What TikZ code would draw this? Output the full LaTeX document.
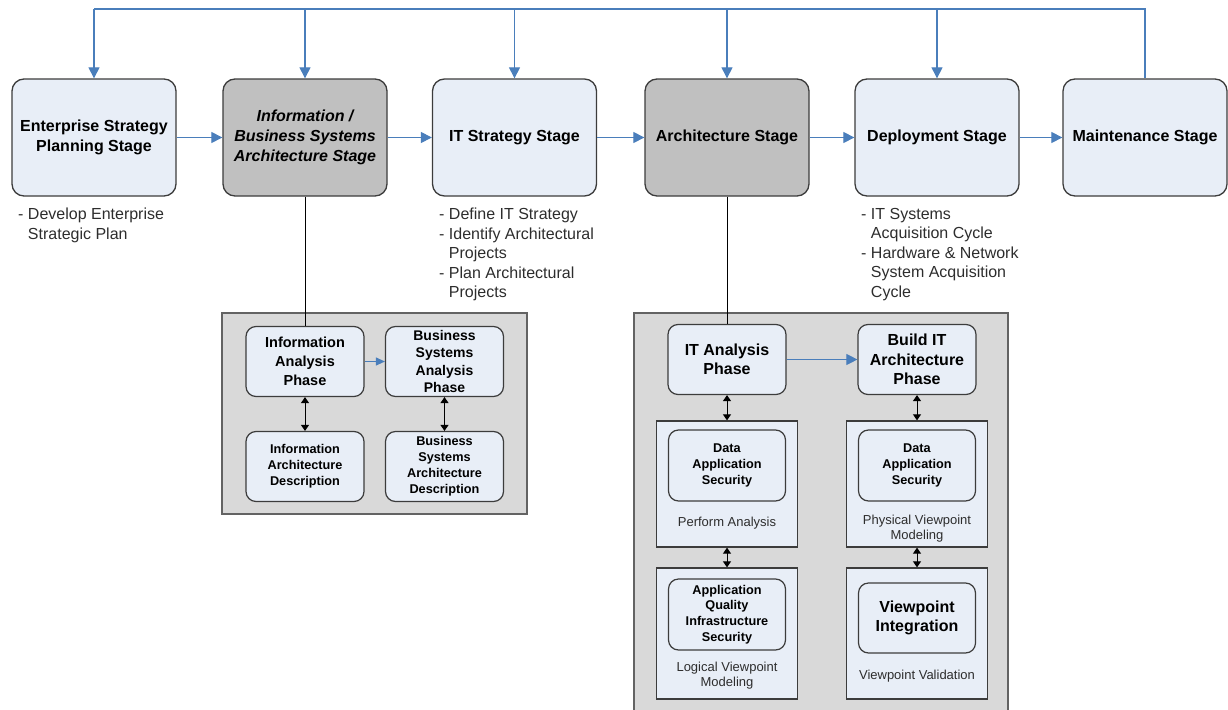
\documentclass[tikz,border=0pt]{standalone}
\usepackage{fontspec}
\setmainfont{Liberation Sans}
\usetikzlibrary{arrows.meta}

\definecolor{stageblue}{RGB}{232,238,247}
\definecolor{stagegray}{RGB}{192,192,192}
\definecolor{panelgray}{RGB}{217,217,217}
\definecolor{flowblue}{RGB}{74,126,187}
\definecolor{edgegray}{RGB}{60,60,60}
\definecolor{notegray}{RGB}{45,45,45}

\tikzset{
  stage/.style={draw=edgegray, line width=1.3pt, rounded corners=12pt, fill=stageblue,
    minimum width=164pt, minimum height=117pt, inner sep=2pt, align=center,
    font=\fontsize{16}{20}\selectfont\bfseries},
  stagedark/.style={stage, fill=stagegray},
  note/.style={anchor=north west, inner sep=0pt, align=left, text=notegray,
    font=\fontsize{16}{19.5}\selectfont},
  panel/.style={draw=edgegray!80, line width=1.3pt, fill=panelgray},
  phase/.style={draw=edgegray, line width=1.2pt, rounded corners=10pt, fill=stageblue,
    minimum width=118pt, minimum height=70pt, inner sep=1pt, align=center,
    font=\fontsize{16}{19}\selectfont\bfseries},
  viewbox/.style={draw=edgegray, line width=1.3pt, fill=stageblue,
    minimum width=141pt, minimum height=126pt, inner sep=0pt},
  innerbox/.style={draw=edgegray, line width=1.2pt, rounded corners=10pt, fill=stageblue,
    minimum width=117pt, minimum height=71pt, inner sep=1pt, align=center,
    font=\fontsize{12.7}{15.8}\selectfont\bfseries},
  boxcaption/.style={inner sep=0pt, align=center, text=notegray,
    font=\fontsize{13}{15.5}\selectfont},
  feedback/.style={draw=flowblue, line width=1.1pt},
  flow/.style={draw=flowblue, line width=1.1pt, -{Triangle[length=11pt,width=11pt]}},
  flowsmall/.style={draw=flowblue, line width=1.1pt, -{Triangle[length=9pt,width=8pt]}},
  connector/.style={draw=black, line width=1pt},
  twoway/.style={draw=black, line width=1pt,
    {Triangle[length=6pt,width=8pt]}-{Triangle[length=6pt,width=8pt]}},
}

\begin{document}
\begin{tikzpicture}[x=1pt, y=-1pt]
    \useasboundingbox (0,0) rectangle (1228,709);
    % stages
    \node[stage] (enterprise) at (94,137.5) {Enterprise Strategy\\Planning Stage};
    \node[stagedark, font=\fontsize{16}{20}\selectfont\bfseries\itshape] (infobiz) at (305,137.5) {Information /\\Business Systems\\Architecture Stage};
    \node[stage] (itstrategy) at (514.5,137.5) {IT Strategy Stage};
    \node[stagedark] (architecture) at (727,137.5) {Architecture Stage};
    \node[stage] (deployment) at (937,137.5) {Deployment Stage};
    \node[stage] (maintenance) at (1145,137.5) {Maintenance Stage};
    % feedback line along the top
    \coordinate (top) at (0,9);
    \draw[feedback] (enterprise.north |- top) -- (maintenance.north |- top) -- (maintenance.north);
    \draw[flow] (enterprise.north |- top) -- (enterprise.north);
    \draw[flow] (infobiz.north |- top) -- (infobiz.north);
    \draw[flow] (itstrategy.north |- top) -- (itstrategy.north);
    \draw[flow] (architecture.north |- top) -- (architecture.north);
    \draw[flow] (deployment.north |- top) -- (deployment.north);
    \draw[flow] (enterprise.east) -- (infobiz.west);
    \draw[flow] (infobiz.east) -- (itstrategy.west);
    \draw[flow] (itstrategy.east) -- (architecture.west);
    \draw[flow] (architecture.east) -- (deployment.west);
    \draw[flow] (deployment.east) -- (maintenance.west);
    % notes under the stages
    \node[note] (enterprisenote) at (18,208) {- Develop Enterprise\\\hphantom{- }Strategic Plan};
    \node[note] (itstrategynote) at (439,208) {- Define IT Strategy\\- Identify Architectural\\\hphantom{- }Projects\\- Plan Architectural\\\hphantom{- }Projects};
    \node[note] (deploymentnote) at (861,208) {- IT Systems\\\hphantom{- }Acquisition Cycle\\- Hardware \& Network\\\hphantom{- }System Acquisition\\\hphantom{- }Cycle};

    % information / business systems panel
    \draw[panel] (222,313) rectangle (527,514);
    \node[phase, font=\fontsize{14.5}{19}\selectfont\bfseries] (infoanalysis) at (305,361.5) {Information\\Analysis\\Phase};
    \node[phase, font=\fontsize{14}{17.6}\selectfont\bfseries] (bizanalysis) at (444.5,361.5) {Business\\Systems\\Analysis\\Phase};
    \node[phase, font=\fontsize{12.7}{16}\selectfont\bfseries] (infodesc) at (305,466.5) {Information\\Architecture\\Description};
    \node[phase, font=\fontsize{12.7}{16}\selectfont\bfseries] (bizdesc) at (444.5,466.5) {Business\\Systems\\Architecture\\Description};
    \draw[connector] (infobiz.south) -- (infoanalysis.north);
    \draw[flowsmall] (infoanalysis.east) -- (bizanalysis.west);
    \draw[twoway] (infoanalysis.south) -- (infodesc.north);
    \draw[twoway] (bizanalysis.south) -- (bizdesc.north);

    % architecture panel, open at the bottom
    \fill[panelgray] (634,313) rectangle (1008,712);
    \draw[panel, fill=none] (634,712) -- (634,313) -- (1008,313) -- (1008,712);
    \node[phase] (itanalysis) at (727,359.5) {IT Analysis\\Phase};
    \node[phase, font=\fontsize{16}{19.5}\selectfont\bfseries] (buildit) at (917,359.5) {Build IT\\Architecture\\Phase};
    \draw[connector] (architecture.south) -- (itanalysis.north);
    \draw[flow] (itanalysis.east) -- (buildit.west);

    \node[viewbox] (perform) at (727,484) {};
    \node[innerbox] (performin) at (727,465.5) {Data\\Application\\Security};
    \node[boxcaption] (performcap) at (727,523) {Perform Analysis};

    \node[viewbox] (physical) at (917,484) {};
    \node[innerbox] (physicalin) at (917,465.5) {Data\\Application\\Security};
    \node[boxcaption] (physicalcap) at (917,528.5) {Physical Viewpoint\\Modeling};

    \node[viewbox, minimum height=131pt] (logical) at (727,633.5) {};
    \node[innerbox] (logicalin) at (727,614.5) {Application\\Quality\\Infrastructure\\Security};
    \node[boxcaption] (logicalcap) at (727,675.5) {Logical Viewpoint\\Modeling};

    \node[viewbox, minimum height=131pt] (validation) at (917,633.5) {};
    \node[innerbox, minimum height=70pt, font=\fontsize{16}{19.3}\selectfont\bfseries] (integration) at (917,618) {Viewpoint\\Integration};
    \node[boxcaption] (validationcap) at (917,676) {Viewpoint Validation};

    \draw[twoway] (itanalysis.south) -- (perform.north);
    \draw[twoway] (perform.south) -- (logical.north);
    \draw[twoway] (buildit.south) -- (physical.north);
    \draw[twoway] (physical.south) -- (validation.north);
\end{tikzpicture}
\end{document}
